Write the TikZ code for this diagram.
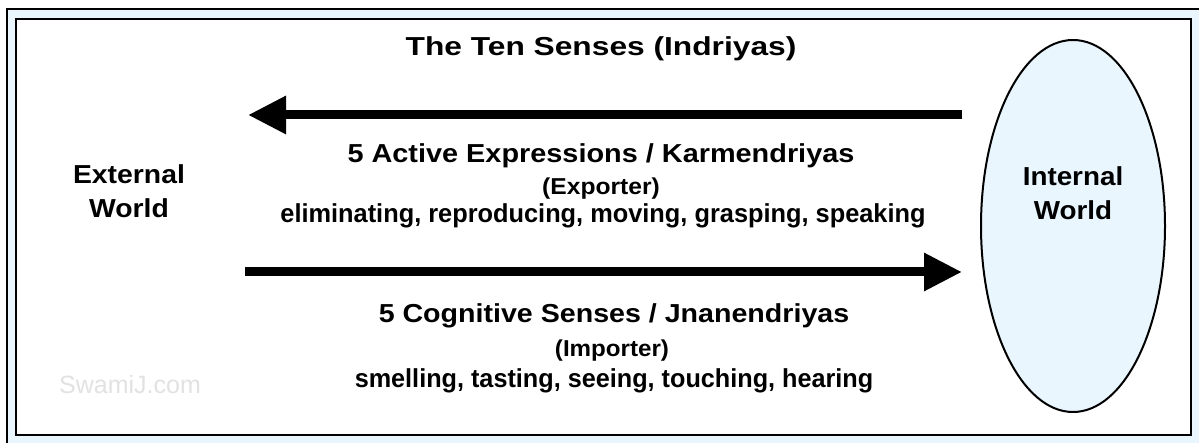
\documentclass[tikz,border=0pt]{standalone}
\usepackage{fontspec}
\usepackage{graphicx}
\setmainfont{Liberation Sans}
\usetikzlibrary{arrows.meta,shapes.geometric}
\definecolor{paleblue}{RGB}{234,246,254}
\definecolor{markgray}{RGB}{226,226,226}
\newcommand{\stretchtext}[2]{\scalebox{#1}[1]{#2}}
\tikzset{
    sense arrow/.style = {
        line width=9pt,
        -{Triangle[length=38pt,width=36pt]},
        },
    big text/.style = {
        anchor=base,
        inner sep=0pt,
        font=\bfseries\fontsize{26}{30}\selectfont,
        },
    small text/.style = {
        anchor=base,
        inner sep=0pt,
        font=\bfseries\fontsize{23}{26}\selectfont,
        },
    world/.style = {
        anchor=base,
        inner sep=0pt,
        align=center,
        font=\bfseries\fontsize{26}{34}\selectfont,
        },
    watermark/.style = {
        anchor=base,
        inner sep=0pt,
        text=markgray,
        font=\fontsize{25}{30}\selectfont,
        },
}

\begin{document}
\begin{tikzpicture}[x=1pt,y=-1pt]
    \clip (0,0) rectangle (1199,443);
    % frame
    \draw[line width=2pt, fill=paleblue] (7,9) rectangle (1215,460);
    \draw[line width=2pt, fill=white] (16,19) rectangle (1191,435);

    \node[draw, ellipse, line width=2pt, fill=paleblue,
          minimum width=184pt, minimum height=372pt] (inner) at (1073,226) {};
    \node[world] (int label) at (1073,220) {\stretchtext{1.07}{Internal}\\\stretchtext{1.07}{World}};
    \node[world] (ext label) at (129,218) {\stretchtext{1.09}{External}\\\stretchtext{1.09}{World}};

    \node[big text] (title) at (601,56) {\stretchtext{1.22}{The Ten Senses (Indriyas)}};

    \coordinate (out start) at (962,115);
    \coordinate (out end) at (248,115);
    \coordinate (in start) at (245,272);
    \coordinate (in end) at (962,272);
    \draw[sense arrow] (out start) -- (out end);
    \draw[sense arrow] (in start) -- (in end);

    \node[big text] (active) at (601,163) {\stretchtext{1.11}{5 Active Expressions / Karmendriyas}};
    \node[small text] (exporter) at (601,195) {\stretchtext{1.07}{(Exporter)}};
    \node[big text] (active list) at (603,223) {\stretchtext{0.975}{eliminating, reproducing, moving, grasping, speaking}};

    \node[big text] (cognitive) at (614,323) {\stretchtext{1.10}{5 Cognitive Senses / Jnanendriyas}};
    \node[small text] (importer) at (612,356) {\stretchtext{1.05}{(Importer)}};
    \node[big text] (cognitive list) at (614,388) {\stretchtext{0.97}{smelling, tasting, seeing, touching, hearing}};

    \node[watermark] (mark) at (130,393) {SwamiJ.com};
\end{tikzpicture}
\end{document}
